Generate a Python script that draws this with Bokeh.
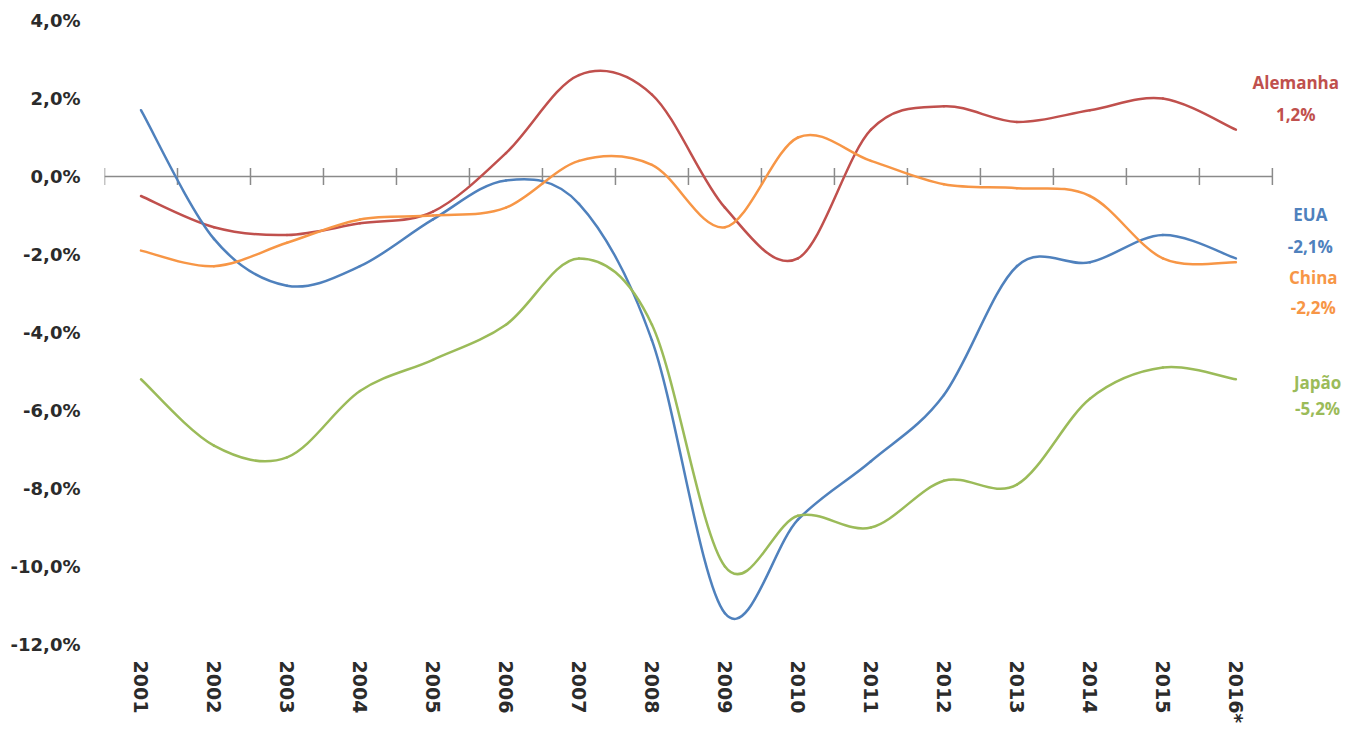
import math
from bokeh.plotting import figure
from bokeh.models import Range1d, FixedTicker, Label
from bokeh.embed import file_html
from bokeh.resources import INLINE

# ---- data ----
years = list(range(2001, 2017))
year_labels = [str(y) for y in years[:-1]] + ["2016*"]
alemanha = [-0.5, -1.3, -1.5, -1.2, -0.9, 0.6, 2.6, 2.1, -0.8, -2.1, 1.2, 1.8, 1.4, 1.7, 2.0, 1.2]
eua = [1.7, -1.6, -2.8, -2.3, -1.1, -0.1, -0.7, -4.2, -11.2, -8.8, -7.3, -5.6, -2.3, -2.2, -1.5, -2.1]
china = [-1.9, -2.3, -1.7, -1.1, -1.0, -0.8, 0.4, 0.3, -1.3, 1.0, 0.4, -0.2, -0.3, -0.5, -2.1, -2.2]
japao = [-5.2, -6.9, -7.2, -5.5, -4.7, -3.8, -2.1, -3.8, -10.0, -8.7, -9.0, -7.8, -7.9, -5.7, -4.9, -5.2]
y_ticks = [4, 2, 0, -2, -4, -6, -8, -10, -12]
series_names = ["Alemanha", "EUA", "China", "Japão"]
series_values = [alemanha, eua, china, japao]
series_colors = ["#C0504D", "#4F81BD", "#F79646", "#9BBB59"]

# ---- layout ----
X_END = 2017.57          # frame extends right so that the end labels are not clipped
label_x = [2016.82, 2017.02, 2017.06, 2017.12]
label_y_name = [2.40, -0.98, -2.60, -5.27]
label_y_val = [1.58, -1.80, -3.37, -5.94]


def fmt(v):
    return f"{v:.1f}".replace(".", ",")


p = figure(width=1350, height=734, output_backend="svg", toolbar_location=None,
           x_range=Range1d(years[0] - 0.5, X_END),
           y_range=Range1d(min(y_ticks), max(y_ticks)),
           min_border_left=104, min_border_right=0, min_border_top=20,
           min_border_bottom=90)
p.outline_line_color = None
p.grid.visible = False
p.background_fill_color = "white"

# y axis
p.yaxis.ticker = FixedTicker(ticks=y_ticks)
p.yaxis.major_label_overrides = {t: fmt(t) + "%" for t in y_ticks}
p.yaxis.axis_line_color = None
p.yaxis.major_tick_line_color = None
p.yaxis.minor_tick_line_color = None
p.yaxis.major_tick_out = 0
p.yaxis.major_tick_in = 0
p.yaxis.major_label_standoff = 24
p.yaxis.major_label_text_font = "DejaVu Sans"
p.yaxis.major_label_text_font_style = "bold"
p.yaxis.major_label_text_font_size = "18px"
p.yaxis.major_label_text_color = "#2b2b2b"

# x axis (labels only, below)
p.xaxis.ticker = FixedTicker(ticks=years)
p.xaxis.major_label_overrides = {y: l for y, l in zip(years, year_labels)}
p.xaxis.major_label_orientation = -math.pi / 2
p.xaxis.axis_line_color = None
p.xaxis.major_tick_line_color = None
p.xaxis.minor_tick_line_color = None
p.xaxis.major_tick_out = 0
p.xaxis.major_tick_in = 0
p.xaxis.major_label_standoff = 16
p.xaxis.major_label_text_font = "DejaVu Sans"
p.xaxis.major_label_text_font_style = "bold"
p.xaxis.major_label_text_font_size = "19px"
p.xaxis.major_label_text_color = "#2b2b2b"

# zero line with cross tick marks between categories
bounds = [y - 0.5 for y in years] + [years[-1] + 0.5]
p.line(x=[bounds[0], bounds[-1]], y=[0, 0], line_color="#8a8a8a", line_width=1.5)
p.segment(x0=bounds, y0=[-0.22] * len(bounds), x1=bounds, y1=[0.22] * len(bounds),
          line_color="#8a8a8a", line_width=1.5)

# smoothed lines (Excel-style cubic Bezier through the data points)
for name, vals, col, lx, lyn, lyv in zip(series_names, series_values, series_colors,
                                         label_x, label_y_name, label_y_val):
    n = len(vals)
    x0, y0, x1, y1, cx0, cy0, cx1, cy1 = [], [], [], [], [], [], [], []
    for i in range(n - 1):
        im1 = max(i - 1, 0)
        ip2 = min(i + 2, n - 1)
        x0.append(years[i]); y0.append(vals[i])
        x1.append(years[i + 1]); y1.append(vals[i + 1])
        cx0.append(years[i] + (years[i + 1] - years[im1]) / 6)
        cy0.append(vals[i] + (vals[i + 1] - vals[im1]) / 6)
        cx1.append(years[i + 1] - (years[ip2] - years[i]) / 6)
        cy1.append(vals[i + 1] - (vals[ip2] - vals[i]) / 6)
    p.bezier(x0=x0, y0=y0, x1=x1, y1=y1, cx0=cx0, cy0=cy0, cx1=cx1, cy1=cy1,
             line_color=col, line_width=2.5, line_cap="round")
    p.add_layout(Label(x=lx, y=lyn, text=name, text_color=col, text_align="center",
                       text_baseline="middle", text_font="Open Sans",
                       text_font_style="bold", text_font_size="17px"))
    p.add_layout(Label(x=lx, y=lyv, text=fmt(vals[-1]) + "%", text_color=col,
                       text_align="center", text_baseline="middle",
                       text_font="Open Sans", text_font_style="bold",
                       text_font_size="17px"))

open("out.html", "w").write(file_html(p, INLINE))
